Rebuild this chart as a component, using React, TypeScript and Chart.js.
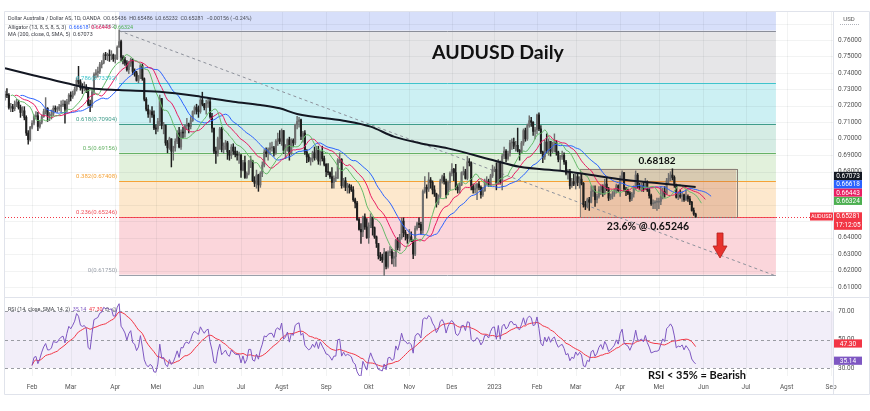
import React, { useEffect, useRef } from 'react';
import { Chart, registerables } from 'chart.js';

Chart.register(...registerables);
Chart.defaults.font.family = 'Roboto';

// ---------------- DATA ----------------
// Daily candles, prices in pips (x 0.0001): [high, low, close]; open = previous close.
// Bar index 0 = 1 Feb 2022 (weekday count).
const START_INDEX = -14;
const FIRST_OPEN = 7255;
const PIP = 10000;

const jan2022 = [[7290,7235,7270],[7305,7250,7265],[7275,7180,7190],[7215,7165,7195],[7210,7165,7183],[7230,7170,7210],[7240,7195,7222],[7235,7180,7190],[7205,7130,7160],[7195,7140,7170],[7195,7115,7130],[7140,7020,7035],[7050,6967,6995],[7075,6985,7070]];
const feb2022 = [[7110,7060,7095],[7145,7085,7135],[7165,7120,7140],[7160,7050,7075],[7110,7065,7100],[7145,7090,7135],[7180,7130,7165],[7250,7150,7185],[7190,7105,7140],[7160,7110,7140],[7175,7120,7150],[7200,7140,7185],[7200,7165,7180],[7195,7160,7180],[7210,7170,7195],[7230,7165,7205],[7235,7195,7210],[7230,7095,7180],[7240,7160,7225],[7275,7210,7265]];
const mar2022 = [[7285,7230,7255],[7290,7245,7275],[7315,7265,7300],[7370,7290,7355],[7440,7330,7345],[7360,7295,7310],[7335,7275,7305],[7345,7290,7310],[7330,7280,7300],[7305,7200,7210],[7235,7165,7200],[7300,7190,7285],[7400,7270,7390],[7420,7370,7400],[7435,7375,7410],[7465,7395,7450],[7475,7430,7460],[7520,7455,7510],[7525,7480,7505],[7520,7475,7510],[7540,7470,7505],[7535,7480,7510],[7515,7470,7485]];
const apr2022 = [[7510,7460,7485],[7565,7480,7555],[7661,7560,7590],[7600,7475,7495],[7505,7455,7480],[7495,7445,7460],[7475,7410,7420],[7470,7395,7460],[7490,7440,7480],[7485,7390,7410],[7425,7380,7400],[7410,7350,7355],[7385,7340,7375],[7455,7365,7445],[7455,7355,7365],[7370,7230,7240],[7250,7170,7180],[7205,7130,7150],[7175,7100,7165],[7195,7130,7145],[7170,7055,7065]];
const may2022 = [[7085,7030,7060],[7125,7045,7105],[7265,7080,7245],[7245,7060,7080],[7100,7030,7085],[7080,6960,6975],[6990,6915,6945],[7010,6935,7000],[7000,6829,6925],[6955,6870,6945],[7000,6925,6985],[7050,6970,7035],[7070,6945,6950],[7055,6935,7040],[7070,7005,7035],[7085,7010,7080],[7125,7055,7090],[7095,7035,7075],[7135,7060,7110],[7170,7105,7165],[7200,7150,7190],[7210,7150,7175]];
const jun2022 = [[7200,7130,7165],[7245,7155,7235],[7283,7200,7210],[7215,7175,7190],[7235,7150,7215],[7250,7190,7225],[7240,7125,7135],[7155,7040,7065],[7065,6910,6925],[6950,6850,6910],[7010,6895,7000],[7070,6935,7060],[7070,6920,6935],[6975,6910,6955],[6990,6935,6975],[6985,6875,6920],[6930,6870,6900],[6965,6880,6950],[6970,6905,6925],[6950,6890,6905],[6925,6870,6900],[6920,6850,6900]];
const jul2022 = [[6905,6765,6810],[6870,6805,6855],[6895,6760,6765],[6800,6760,6790],[6870,6780,6865],[6895,6825,6865],[6870,6740,6745],[6770,6710,6730],[6810,6700,6780],[6785,6681,6720],[6800,6705,6790],[6860,6770,6840],[6935,6830,6920],[6945,6890,6910],[6945,6870,6935],[6975,6905,6945],[6980,6925,6945],[6955,6895,6915],[6995,6905,6985],[7035,6960,7000],[7050,6970,6985]];
const aug2022 = [[7060,6960,7050],[7050,6910,6930],[6965,6880,6950],[7000,6925,6995],[7010,6870,6910],[7000,6905,6990],[7000,6950,6975],[7090,6965,7085],[7137,7060,7105],[7130,7070,7115],[7120,6995,7015],[7045,6980,7035],[7050,6905,6920],[6935,6855,6890],[6905,6860,6870],[6885,6840,6880],[6925,6860,6915],[6950,6870,6885],[6955,6875,6930],[6955,6845,6865],[6925,6840,6920],[6955,6865,6880],[6895,6835,6845]];
const sep2022 = [[6850,6770,6800],[6850,6780,6795],[6800,6760,6770],[6825,6700,6735],[6775,6700,6760],[6800,6740,6760],[6880,6760,6870],[6915,6855,6875],[6880,6700,6715],[6760,6705,6745],[6765,6685,6705],[6730,6670,6715],[6725,6670,6705],[6720,6680,6690],[6710,6620,6630],[6640,6580,6610],[6620,6505,6510],[6520,6445,6450],[6485,6365,6435],[6530,6405,6525],[6545,6450,6465],[6515,6395,6400]];
const oct2022 = [[6490,6365,6475],[6545,6460,6525],[6510,6415,6460],[6465,6395,6405],[6410,6340,6365],[6355,6270,6290],[6310,6260,6280],[6300,6250,6265],[6335,6170,6310],[6315,6210,6225],[6320,6215,6310],[6345,6290,6315],[6330,6240,6275],[6310,6225,6285],[6390,6225,6385],[6400,6325,6340],[6420,6320,6400],[6520,6390,6500],[6520,6405,6430],[6445,6385,6420],[6420,6365,6395]];
const nov2022 = [[6450,6375,6405],[6435,6375,6385],[6385,6272,6300],[6470,6290,6455],[6495,6445,6485],[6520,6460,6480],[6495,6420,6445],[6690,6425,6680],[6770,6670,6705],[6720,6640,6695],[6795,6680,6750],[6765,6700,6735],[6745,6665,6690],[6715,6650,6665],[6670,6585,6610],[6660,6600,6650],[6755,6640,6745],[6780,6730,6770],[6790,6725,6740],[6755,6640,6660],[6745,6660,6735],[6800,6690,6790]];
const dec2022 = [[6850,6775,6815],[6820,6745,6795],[6845,6690,6705],[6725,6670,6690],[6730,6670,6720],[6800,6715,6795],[6830,6780,6800],[6815,6755,6760],[6893,6750,6860],[6880,6835,6855],[6860,6690,6710],[6725,6670,6690],[6725,6670,6700],[6730,6630,6725],[6740,6690,6705],[6715,6640,6660],[6705,6650,6685],[6755,6680,6740],[6770,6720,6740],[6755,6710,6720],[6785,6710,6775],[6840,6765,6810]];
const jan2023 = [[6830,6800,6815],[6855,6690,6730],[6875,6725,6860],[6865,6725,6740],[6905,6690,6895],[6950,6880,6925],[6935,6860,6880],[6925,6870,6910],[6990,6895,6975],[7000,6935,6980],[7005,6940,6955],[6985,6925,6960],[7065,6920,6930],[6935,6870,6920],[6985,6915,6975],[7060,6960,7050],[7065,6985,7000],[7090,6990,7080],[7140,7070,7110],[7130,7075,7100],[7105,7020,7045],[7070,7000,7055]];
const feb2023 = [[7150,7030,7145],[7158,7050,7060],[7080,6910,6920],[6925,6855,6890],[6990,6875,6980],[7030,6915,6930],[7000,6900,6985],[6985,6895,6925],[6980,6915,6965],[7030,6920,6980],[6990,6900,6920],[6925,6860,6875],[6900,6810,6890],[6925,6875,6900],[6915,6845,6860],[6870,6780,6790],[6815,6755,6800],[6815,6695,6715],[6760,6705,6740],[6785,6715,6725]];
const mar2023 = [[6785,6695,6770],[6785,6715,6735],[6770,6700,6755],[6785,6720,6730],[6735,6585,6600],[6620,6570,6590],[6640,6580,6630],[6645,6565,6615],[6715,6610,6680],[6715,6650,6690],[6715,6590,6630],[6665,6610,6650],[6710,6640,6690],[6720,6660,6710],[6720,6650,6670],[6755,6660,6725],[6760,6685,6695],[6705,6625,6640],[6665,6630,6650],[6680,6635,6665],[6695,6650,6680],[6725,6670,6715],[6720,6680,6685]];
const apr2023 = [[6775,6650,6760],[6805,6750,6795],[6795,6680,6695],[6705,6655,6680],[6695,6660,6670],[6680,6620,6635],[6675,6625,6665],[6715,6645,6700],[6805,6690,6780],[6790,6700,6710],[6730,6690,6705],[6730,6680,6715],[6735,6680,6695],[6760,6690,6740],[6745,6680,6690],[6700,6640,6655],[6665,6595,6605],[6630,6575,6610],[6625,6575,6615],[6640,6565,6615]];
const may2023 = [[6640,6575,6620],[6710,6600,6650],[6700,6635,6680],[6710,6645,6665],[6760,6660,6745],[6790,6730,6760],[6800,6745,6780],[6818,6750,6765],[6775,6705,6720],[6725,6640,6645],[6675,6630,6655],[6690,6640,6650],[6680,6620,6660],[6665,6620,6630],[6690,6625,6650],[6660,6620,6635],[6650,6600,6615],[6620,6560,6565],[6580,6535,6543.6],[6548.6,6523.2,6528.1]];

const MONTHS_OHLC = [jan2022, feb2022, mar2022, apr2022, may2022, jun2022, jul2022, aug2022, sep2022, oct2022, nov2022, dec2022, jan2023, feb2023, mar2023, apr2023, may2023];

// 200 SMA: [bar index, value]
const MA200_POINTS = [[-14,0.7428],[0,0.7388],[18,0.7337],[30,0.7307],[45,0.7296],[66,0.7286],[87,0.7256],[104,0.7225],[118,0.7205],[128,0.7185],[137,0.7151],[161,0.7110],[175,0.7074],[187,0.7013],[201,0.6972],[215,0.6942],[238,0.6871],[252,0.6830],[273,0.6806],[283,0.6791],[307,0.6750],[324,0.6730],[343,0.67073]];

const MONTH_TICKS = [0,20,43,64,86,108,129,152,174,195,217,239,261,281,304,324,347,369,390,413];
const MONTH_LABELS = ['Feb','Mar','Apr','Mei','Jun','Jul','Agst','Sep','Okt','Nov','Des','2023','Feb','Mar','Apr','Mei','Jun','Jul','Agst','Sep'];

const PRICE_TICKS = [0.76, 0.75, 0.74, 0.73, 0.72, 0.71, 0.70, 0.69, 0.68, 0.64, 0.63, 0.62, 0.61];
const PRICE_GRID = [0.77, 0.76, 0.75, 0.74, 0.73, 0.72, 0.71, 0.70, 0.69, 0.68, 0.67, 0.66, 0.65, 0.64, 0.63, 0.62, 0.61];

const FIB_PRICES = [0.85716, 0.76562, 0.73392, 0.70904, 0.69156, 0.67408, 0.65246, 0.6175];
const FIB_LABELS = ['', '1(0.76562)', '0.786(0.73392)', '0.618(0.70904)', '0.5(0.69156)', '0.382(0.67408)', '0.236(0.65246)', '0(0.61750)'];
const FIB_START_IDX = 45;
const FIB_END_IDX = 384.5;
const TREND_LINE = [{ x: 45, y: 0.7656 }, { x: 384.5, y: 0.6167 }];
const BOX_RANGE = [283, 364];
const BOX_TOP = 0.68182;
const BOX_BOTTOM = 0.65246;
const ARROW_IDX = 355.6;
const ARROW_PRICES = [0.6428, 0.6349, 0.6276];

const LAST_PRICE = 0.65281;
const MA_LAST = 0.67073;
const ALLIGATOR_LAST = [0.66618, 0.66443, 0.66324];
const RSI_LAST = 35.14;
const RSI_SMA_LAST = 47.3;
const RSI_LEVELS = [70, 50, 30];

// ---------------- STYLE ----------------
const X_MIN = -14, X_MAX = 414;
const PRICE_MIN = 0.60454, PRICE_MAX = 0.777;
const RSI_MIN = 24.36, RSI_MAX = 77.97;
const UP_COLOR = '#6e6e6e';
const DOWN_COLOR = '#1e1e1e';
const FIB_BAND_COLORS = ['#d7dffa', '#e6e6e8', '#ccf0f3', '#d5ece4', '#e2f1dc', '#fde8cd', '#fbd6db'];
const FIB_LINE_COLORS = ['#5b7ce8', '#8a8e99', '#3fc4cc', '#3f9c8a', '#66b266', '#f5a236', '#f0505a', '#9aa0aa'];
const GRID = 'rgba(42,46,57,0.06)';
const BORDER = '#e0e3eb';
const SMALL = '6.5px Roboto';
const LEGEND = '5.4px Roboto';

type Candle = { i: number; o: number; h: number; l: number; c: number };

function buildCandles(): Candle[] {
  const out: Candle[] = [];
  let prev = FIRST_OPEN;
  let idx = START_INDEX;
  for (const m of MONTHS_OHLC) {
    for (const b of m) {
      const [h, l, c] = b;
      out.push({ i: idx++, o: prev / PIP, h: h / PIP, l: l / PIP, c: c / PIP });
      prev = c;
    }
  }
  return out;
}

function smma(src: number[], n: number): number[] {
  const out: number[] = [];
  let s = src[0];
  for (let k = 0; k < src.length; k++) {
    s = k === 0 ? src[0] : (s * (n - 1) + src[k]) / n;
    out.push(s);
  }
  return out;
}

function rsiSeries(closes: number[], n: number): (number | null)[] {
  const out: (number | null)[] = closes.map(() => null);
  let ag = 0, al = 0;
  for (let k = 1; k < closes.length; k++) {
    const d = closes[k] - closes[k - 1];
    const g = Math.max(d, 0), l = Math.max(-d, 0);
    if (k <= n) {
      ag += g / n; al += l / n;
      if (k === n) out[k] = al === 0 ? 100 : 100 - 100 / (1 + ag / al);
    } else {
      ag = (ag * (n - 1) + g) / n;
      al = (al * (n - 1) + l) / n;
      out[k] = al === 0 ? 100 : 100 - 100 / (1 + ag / al);
    }
  }
  return out;
}

function smaSeries(src: (number | null)[], n: number): (number | null)[] {
  return src.map((_, k) => {
    const win: number[] = [];
    for (let j = Math.max(0, k - n + 1); j <= k; j++) if (src[j] != null) win.push(src[j] as number);
    if (src[k] == null || win.length === 0) return null;
    return win.reduce((a, b) => a + b, 0) / win.length;
  });
}

function txt(ctx: CanvasRenderingContext2D, s: string, x: number, y: number, font: string, color: string, align: CanvasTextAlign = 'left', base: CanvasTextBaseline = 'middle') {
  ctx.font = font; ctx.fillStyle = color; ctx.textAlign = align; ctx.textBaseline = base;
  ctx.fillText(s, x, y);
}

function seq(ctx: CanvasRenderingContext2D, parts: [string, string][], x: number, y: number, font: string) {
  ctx.font = font; ctx.textAlign = 'left'; ctx.textBaseline = 'middle';
  let cx = x;
  for (const [s, c] of parts) {
    ctx.fillStyle = c;
    ctx.fillText(s, cx, y);
    cx += ctx.measureText(s).width;
  }
}

function axisBox(ctx: CanvasRenderingContext2D, x: number, y: number, w: number, h: number, bg: string, text: string) {
  ctx.fillStyle = bg;
  ctx.fillRect(x, y - h / 2, w, h);
  txt(ctx, text, x + w / 2, y + 0.5, SMALL, '#ffffff', 'center');
}

function noPad(s: any) {
  s.paddingTop = 0; s.paddingBottom = 0; s.paddingLeft = 0; s.paddingRight = 0;
}

const mainPlugin = {
  id: 'mainDeco',
  beforeDraw(chart: any) {
    const { ctx, chartArea: a, scales } = chart;
    const x = scales.x, y = scales.y;
    ctx.save();
    ctx.fillStyle = '#ffffff';
    ctx.fillRect(0, 0, chart.width, chart.height);
    ctx.beginPath(); ctx.rect(a.left, a.top, a.right - a.left, a.bottom - a.top); ctx.clip();
    const xl = x.getPixelForValue(FIB_START_IDX), xr = x.getPixelForValue(FIB_END_IDX);
    for (let k = 0; k < FIB_PRICES.length - 1; k++) {
      const y1 = y.getPixelForValue(FIB_PRICES[k]);
      const y2 = y.getPixelForValue(FIB_PRICES[k + 1]);
      ctx.fillStyle = FIB_BAND_COLORS[k];
      ctx.fillRect(xl, y1, xr - xl, y2 - y1);
    }
    // grid
    ctx.strokeStyle = GRID; ctx.lineWidth = 1;
    ctx.beginPath();
    for (const p of PRICE_GRID) {
      const py = Math.round(y.getPixelForValue(p)) + 0.5;
      ctx.moveTo(a.left, py); ctx.lineTo(a.right, py);
    }
    for (const t of MONTH_TICKS) {
      const px = Math.round(x.getPixelForValue(t)) + 0.5;
      ctx.moveTo(px, a.top); ctx.lineTo(px, a.bottom);
    }
    ctx.stroke();
    ctx.restore();
  },
  beforeDatasetsDraw(chart: any) {
    const { ctx, chartArea: a, scales } = chart;
    const x = scales.x, y = scales.y;
    ctx.save();
    ctx.beginPath(); ctx.rect(a.left, a.top, a.right - a.left, a.bottom - a.top); ctx.clip();
    const xl = x.getPixelForValue(FIB_START_IDX), xr = x.getPixelForValue(FIB_END_IDX);
    for (let k = 1; k < FIB_PRICES.length; k++) {
      const py = Math.round(y.getPixelForValue(FIB_PRICES[k])) + 0.5;
      ctx.strokeStyle = FIB_LINE_COLORS[k];
      ctx.lineWidth = 1;
      ctx.beginPath(); ctx.moveTo(xl, py); ctx.lineTo(xr, py); ctx.stroke();
    }
    // box
    const bx0 = x.getPixelForValue(BOX_RANGE[0]), bx1 = x.getPixelForValue(BOX_RANGE[1]);
    const by0 = y.getPixelForValue(BOX_TOP), by1 = y.getPixelForValue(BOX_BOTTOM);
    ctx.fillStyle = 'rgba(190,100,70,0.28)';
    ctx.fillRect(bx0, by0, bx1 - bx0, by1 - by0);
    ctx.strokeStyle = '#8a8078';
    ctx.strokeRect(Math.round(bx0) + 0.5, Math.round(by0) + 0.5, Math.round(bx1 - bx0), Math.round(by1 - by0));
    // last price line
    const lp = Math.round(y.getPixelForValue(LAST_PRICE)) + 0.5;
    ctx.strokeStyle = '#f23645';
    ctx.setLineDash([1, 2]);
    ctx.beginPath(); ctx.moveTo(a.left, lp); ctx.lineTo(a.right, lp); ctx.stroke();
    ctx.setLineDash([]);
    ctx.restore();
  },
  afterDraw(chart: any) {
    const { ctx, chartArea: a, scales } = chart;
    const x = scales.x, y = scales.y;
    ctx.save();
    // price axis labels
    for (const p of PRICE_TICKS) {
      txt(ctx, p.toFixed(5), a.right + 5, y.getPixelForValue(p), SMALL, '#555', 'left');
    }
    // fib labels
    const xl = x.getPixelForValue(FIB_START_IDX);
    for (let k = 1; k < FIB_PRICES.length; k++) {
      txt(ctx, FIB_LABELS[k], xl - 2, y.getPixelForValue(FIB_PRICES[k]) - 1.5, '6px Roboto', FIB_LINE_COLORS[k], 'right', 'bottom');
    }
    // annotations
    txt(ctx, 'AUDUSD Daily', 432, 59, 'bold 19.5px Lato', '#111111', 'left', 'alphabetic');
    txt(ctx, '0.68182', 657, y.getPixelForValue(BOX_TOP) - 4.5, 'bold 10px Lato', '#111111', 'center', 'alphabetic');
    txt(ctx, '23.6% @ 0.65246', 648, y.getPixelForValue(BOX_BOTTOM) + 12.5, 'bold 10.5px Lato', '#111111', 'center', 'alphabetic');
    // arrow
    const ax = x.getPixelForValue(ARROW_IDX);
    const [t, n, tip] = ARROW_PRICES.map(p => y.getPixelForValue(p));
    ctx.beginPath();
    ctx.moveTo(ax - 3, t); ctx.lineTo(ax + 3, t); ctx.lineTo(ax + 3, n); ctx.lineTo(ax + 7, n);
    ctx.lineTo(ax, tip); ctx.lineTo(ax - 7, n); ctx.lineTo(ax - 3, n); ctx.closePath();
    ctx.fillStyle = '#e8322d'; ctx.fill();
    ctx.strokeStyle = '#b3201c'; ctx.lineWidth = 0.8; ctx.stroke();
    // legend
    seq(ctx, [['Dollar Australia / Dollar AS, 1D, OANDA  ', '#3d3f47'], ['O0.65436  H0.65486  L0.65232  C0.65281  \u22120.00156 (\u22120.24%)', '#4a4d57']], 8, 19, LEGEND);
    seq(ctx, [['Alligator (13, 8, 5, 8, 5, 3)  ', '#3d3f47'], ['0.66618  ', '#2962ff'], ['0.66443  ', '#e91e63'], ['0.66324', '#4caf50']], 8, 27.5, LEGEND);
    seq(ctx, [['MA (200, close, 0, SMA, 5)  ', '#3d3f47'], ['0.67073', '#3d3f47']], 8, 35, LEGEND);
    // axis header
    txt(ctx, 'USD', 849, 19, '6px Roboto', '#555', 'center');
    ctx.strokeStyle = '#b0b3bb'; ctx.lineWidth = 1; ctx.setLineDash([1, 1]);
    ctx.beginPath(); ctx.moveTo(840, 24.5); ctx.lineTo(860, 24.5); ctx.stroke(); ctx.setLineDash([]);
    // right labels (stacked upward)
    const labels = [
      { v: ALLIGATOR_LAST[2], bg: '#4caf50' },
      { v: ALLIGATOR_LAST[1], bg: '#e91e63' },
      { v: ALLIGATOR_LAST[0], bg: '#2962ff' },
      { v: MA_LAST, bg: '#131722' },
    ];
    let prevY = Infinity;
    for (const lb of labels) {
      let py = y.getPixelForValue(lb.v) + 1.5;
      if (py > prevY - 8.3) py = prevY - 8.3;
      axisBox(ctx, a.right + 1, py, 28, 8.2, lb.bg, lb.v.toFixed(5));
      prevY = py;
    }
    const lpy = y.getPixelForValue(LAST_PRICE);
    ctx.fillStyle = '#f23645';
    ctx.fillRect(a.right + 1, lpy - 4.2, 28, 17.5);
    txt(ctx, LAST_PRICE.toFixed(5), a.right + 15, lpy + 0.3, SMALL, '#fff', 'center');
    txt(ctx, '17:12:05', a.right + 15, lpy + 8.6, SMALL, '#fff', 'center');
    ctx.fillStyle = '#f23645';
    ctx.fillRect(a.right - 23, lpy - 4, 23, 8);
    txt(ctx, 'AUDUSD', a.right - 11.5, lpy + 0.3, '5.5px Roboto', '#fff', 'center');
    // borders
    ctx.strokeStyle = BORDER; ctx.lineWidth = 1;
    ctx.beginPath();
    ctx.moveTo(a.left - 0.5, a.top - 0.5); ctx.lineTo(869.5, a.top - 0.5);
    ctx.moveTo(a.left - 0.5, a.top - 0.5); ctx.lineTo(a.left - 0.5, chart.height);
    ctx.moveTo(a.right + 0.5, a.top - 0.5); ctx.lineTo(a.right + 0.5, chart.height);
    ctx.moveTo(869.5, a.top - 0.5); ctx.lineTo(869.5, chart.height);
    ctx.moveTo(a.left, a.bottom + 1.5); ctx.lineTo(869.5, a.bottom + 1.5);
    ctx.stroke();
    ctx.restore();
  },
};

const rsiPlugin = {
  id: 'rsiDeco',
  beforeDraw(chart: any) {
    const { ctx, chartArea: a, scales } = chart;
    const x = scales.x, y = scales.y;
    ctx.save();
    ctx.fillStyle = '#ffffff';
    ctx.fillRect(0, 0, chart.width, chart.height);
    const y70 = y.getPixelForValue(70), y30 = y.getPixelForValue(30);
    ctx.fillStyle = 'rgba(126,87,194,0.1)';
    ctx.fillRect(a.left, y70, a.right - a.left, y30 - y70);
    ctx.strokeStyle = GRID; ctx.lineWidth = 1;
    ctx.beginPath();
    for (const t of MONTH_TICKS) {
      const px = Math.round(x.getPixelForValue(t)) + 0.5;
      ctx.moveTo(px, a.top); ctx.lineTo(px, a.bottom);
    }
    ctx.stroke();
    ctx.restore();
  },
  beforeDatasetsDraw(chart: any) {
    const { ctx, chartArea: a, scales } = chart;
    const y = scales.y;
    ctx.save();
    ctx.strokeStyle = '#9a9ca3'; ctx.lineWidth = 1; ctx.setLineDash([3, 3]);
    for (const lv of RSI_LEVELS) {
      const py = Math.round(y.getPixelForValue(lv)) + 0.5;
      ctx.beginPath(); ctx.moveTo(a.left, py); ctx.lineTo(a.right, py); ctx.stroke();
    }
    ctx.restore();
  },
  afterDraw(chart: any) {
    const { ctx, chartArea: a, scales } = chart;
    const x = scales.x, y = scales.y;
    ctx.save();
    for (const lv of RSI_LEVELS) {
      txt(ctx, lv.toFixed(2), a.right + 5, y.getPixelForValue(lv), SMALL, '#555', 'left');
    }
    MONTH_TICKS.forEach((t, k) => {
      txt(ctx, MONTH_LABELS[k], x.getPixelForValue(t), 89, SMALL, '#555', 'center');
    });
    seq(ctx, [['RSI (14, close, SMA, 14, 2)  ', '#3d3f47'], ['35.14  ', '#7e57c2'], ['47.30  ', '#f23645'], ['\u2205  \u2205', '#3d3f47']], 8, 12, LEGEND);
    axisBox(ctx, a.right + 1, y.getPixelForValue(RSI_SMA_LAST), 28, 8.2, '#f23645', RSI_SMA_LAST.toFixed(2));
    axisBox(ctx, a.right + 1, y.getPixelForValue(RSI_LAST), 28, 8.2, '#7e57c2', RSI_LAST.toFixed(2));
    txt(ctx, 'RSI < 35% = Bearish', 697, 81, 'bold 11px Lato', '#111111', 'center', 'alphabetic');
    ctx.strokeStyle = BORDER; ctx.lineWidth = 1;
    ctx.beginPath();
    ctx.moveTo(a.left - 0.5, 0); ctx.lineTo(a.left - 0.5, 96.5);
    ctx.moveTo(a.right + 0.5, 0); ctx.lineTo(a.right + 0.5, 96.5);
    ctx.moveTo(869.5, 0); ctx.lineTo(869.5, 96.5);
    ctx.moveTo(a.left - 0.5, 96.5); ctx.lineTo(869.5, 96.5);
    ctx.stroke();
    ctx.restore();
  },
};

export default function App() {
  const mainRef = useRef<HTMLCanvasElement>(null);
  const rsiRef = useRef<HTMLCanvasElement>(null);

  useEffect(() => {
    const candles = buildCandles();
    const hl2 = candles.map(c => (c.h + c.l) / 2);
    const closes = candles.map(c => c.c);
    const shifted = (vals: number[], off: number) => vals.map((v, k) => ({ x: candles[k].i + off, y: v }));
    const jaw = shifted(smma(hl2, 13), 8);
    const teeth = shifted(smma(hl2, 8), 5);
    const lips = shifted(smma(hl2, 5), 3);
    const rsi = rsiSeries(closes, 14);
    const rsiSma = smaSeries(rsi, 14);

    const colorOf = (c: Candle) => (c.c >= c.o ? UP_COLOR : DOWN_COLOR);

    const xScale = {
      type: 'linear' as const,
      display: false,
      min: X_MIN, max: X_MAX, offset: false,
    };
    const yScale = (min: number, max: number) => ({
      type: 'linear' as const,
      display: false,
      position: 'right',
      min, max,
    });
    const layoutPad = (top: number, bottom: number) => ({ padding: { left: 5, right: 37, top, bottom } });

    const main = new Chart(mainRef.current as HTMLCanvasElement, {
      type: 'bar',
      data: {
        datasets: [
          { type: 'line', label: 'MA200', data: MA200_POINTS.map(([i, v]) => ({ x: i, y: v })), borderColor: '#131722', borderWidth: 2, pointRadius: 0, cubicInterpolationMode: 'monotone', order: 0 } as any,
          { type: 'line', label: 'Lips', data: lips, borderColor: '#66bb6a', borderWidth: 1, pointRadius: 0, order: 1 } as any,
          { type: 'line', label: 'Teeth', data: teeth, borderColor: '#e91e63', borderWidth: 1, pointRadius: 0, order: 2 } as any,
          { type: 'line', label: 'Jaw', data: jaw, borderColor: '#2962ff', borderWidth: 1, pointRadius: 0, order: 3 } as any,
          { type: 'bar', label: 'Body', data: candles.map(c => ({ x: c.i, y: [c.o, c.c] })), backgroundColor: candles.map(colorOf), barThickness: 1.4, minBarLength: 1, grouped: false, borderWidth: 0, order: 4 } as any,
          { type: 'bar', label: 'Wick', data: candles.map(c => ({ x: c.i, y: [c.l, c.h] })), backgroundColor: candles.map(colorOf), barThickness: 0.8, grouped: false, borderWidth: 0, order: 5 } as any,
          { type: 'line', label: 'Trend', data: TREND_LINE, borderColor: '#8d919b', borderWidth: 1, borderDash: [3, 3], pointRadius: 0, order: 6 } as any,
        ],
      },
      options: {
        responsive: false,
        animation: false,
        events: [],
        layout: layoutPad(12, 2),
        plugins: { legend: { display: false }, tooltip: { enabled: false } },
        scales: { x: xScale as any, y: yScale(PRICE_MIN, PRICE_MAX) as any },
      },
      plugins: [mainPlugin],
    });

    const rsiChart = new Chart(rsiRef.current as HTMLCanvasElement, {
      type: 'line',
      data: {
        datasets: [
          { label: 'RSI', data: rsi.map((v, k) => ({ x: candles[k].i, y: v })), borderColor: '#7e57c2', borderWidth: 1, pointRadius: 0 } as any,
          { label: 'RSI SMA', data: rsiSma.map((v, k) => ({ x: candles[k].i, y: v })), borderColor: '#f23645', borderWidth: 1, pointRadius: 0 } as any,
        ],
      },
      options: {
        responsive: false,
        animation: false,
        events: [],
        layout: layoutPad(2, 35),
        plugins: { legend: { display: false }, tooltip: { enabled: false } },
        scales: { x: xScale as any, y: yScale(RSI_MIN, RSI_MAX) as any },
      },
      plugins: [rsiPlugin],
    });

    return () => { main.destroy(); rsiChart.destroy(); };
  }, []);

  return (
    <div style={{ position: 'absolute', left: 0, top: 0, width: 870, height: 411, background: '#ffffff' }}>
      <canvas ref={mainRef} width={870} height={298} style={{ position: 'absolute', left: 0, top: 0, display: 'block' }} />
      <canvas ref={rsiRef} width={870} height={113} style={{ position: 'absolute', left: 0, top: 298, display: 'block' }} />
    </div>
  );
}
